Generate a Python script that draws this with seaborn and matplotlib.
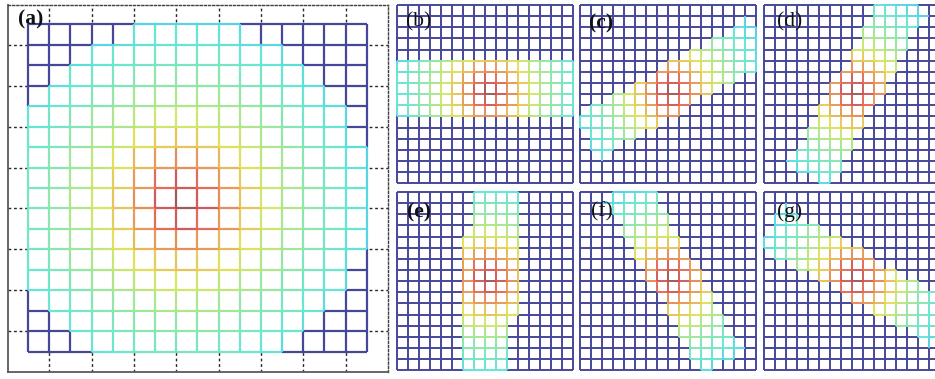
import numpy as np
import matplotlib
matplotlib.use("Agg")
import matplotlib.pyplot as plt
from matplotlib.collections import LineCollection
from matplotlib.patches import Rectangle
import seaborn as sns

sns.set_theme(style="white")
plt.rcParams["font.family"] = ["Liberation Serif", "DejaVu Serif"]

# panel letters
labels = ["(a)", "(b)", "(c)", "(d)", "(e)", "(f)", "(g)"]
label_bold = [True, False, True, False, True, False, False]
label_xy_px = [(31, 19), (419, 22), (601, 23), (790, 22), (419, 212), (602, 212), (790, 212)]

# kernel of each panel
angle_deg = [0, 0, 30, 60, 90, 120, 150]
peak_vertex = [(7, 7), (8, 8), (8, 8), (8, 8), (8, 8), (8, 8), (8, 8)]
window_centre = [(7.5, 7.5), (8.5, 8.5), (8.5, 8.5), (8.5, 8.5), (8.5, 8.5), (8.5, 8.5), (8.5, 8.5)]
window_len = [8.9, 9.5, 9.5, 9.5, 9.5, 9.5, 9.5]
window_wid = [8.9, 2.5, 2.5, 2.5, 2.5, 2.5, 2.5]
round_window = [True, False, False, False, False, False, False]
across_scale = [1.0, 1.0, 1.0, 1.0, 1.0, 1.0, 1.0]
decay = [5.15, 5.15, 5.15, 5.15, 5.15, 5.15, 5.15]
shape_power = [1.3, 1.3, 1.3, 1.3, 1.3, 1.3, 1.3]
value_floor = [0.25, 0.25, 0.25, 0.25, 0.25, 0.25, 0.25]
n_lines = 17

# tick positions
big_ticks = [1, 3, 5, 7, 9, 11, 13, 15]
small_ticks = [4, 9, 14]

W, H = 935, 379
jet = matplotlib.colormaps["jet"]


def kernel_mesh(i):
    idx = np.arange(n_lines)
    cx, cy = np.meshgrid(idx, idx)
    th = np.deg2rad(angle_deg[i])
    px, py = peak_vertex[i]
    u = (cx - px) * np.cos(th) + (cy - py) * np.sin(th)
    v = -(cx - px) * np.sin(th) + (cy - py) * np.cos(th)
    d = np.hypot(u, v / across_scale[i])
    g = np.exp(-(d / decay[i]) ** shape_power[i])
    value = value_floor[i] + (1 - value_floor[i]) * g
    wx, wy = window_centre[i]
    uw = (cx - wx) * np.cos(th) + (cy - wy) * np.sin(th)
    vw = -(cx - wx) * np.sin(th) + (cy - wy) * np.cos(th)
    if round_window[i]:
        inside = np.hypot(uw, vw) <= window_len[i]
    else:
        inside = (np.abs(uw) <= window_len[i]) & (np.abs(vw) <= window_wid[i])
    return value, inside


def soft(rgba, m=0.45, grey=0.78):
    r = np.array(rgba[:3])
    return tuple((1 - m) * r + m * grey)


def draw_mesh(ax, value, inside, lw):
    n = value.shape[0]
    segs_out, segs_in, cols_in = [], [], []
    for b in range(n):
        for c in range(n):
            for b2, c2 in ((b, c + 1), (b + 1, c)):
                if b2 >= n or c2 >= n:
                    continue
                seg = [(c, b), (c2, b2)]
                if inside[b, c] and inside[b2, c2]:
                    segs_in.append(seg)
                    cols_in.append(soft(jet(value[b, c])))
                else:
                    segs_out.append(seg)
    ax.add_collection(LineCollection(segs_out, colors=[soft(jet(0.0), m=0.35, grey=0.8)],
                                     linewidths=lw, zorder=3, clip_on=False))
    ax.add_collection(LineCollection(segs_in, colors=cols_in, linewidths=lw,
                                     zorder=4, clip_on=False))


def px_axes(fig, left, top, w, h):
    return fig.add_axes([left / W, 1 - (top + h) / H, w / W, h / H])


fig = plt.figure(figsize=(W / 100, H / 100), dpi=100)

# panel (a)
ax = px_axes(fig, 8, 5, 380, 367)
ax.set_xlim(-0.95, 17.0)
ax.set_ylim(-1.0, 16.95)
ax.set_xticks(big_ticks)
ax.set_yticks(big_ticks)
ax.set_xticklabels([])
ax.set_yticklabels([])
ax.tick_params(length=0)
ax.grid(True, color="0.15", linestyle=(0, (2, 2)), linewidth=1.0)
ax.set_axisbelow(True)
for s in ["left", "bottom"]:
    ax.spines[s].set_color("0.35")
    ax.spines[s].set_linewidth(1.3)
for s in ["top", "right"]:
    ax.spines[s].set_color("0.25")
    ax.spines[s].set_linewidth(1.0)
    ax.spines[s].set_linestyle((0, (1.5, 1.5)))
ax.add_patch(Rectangle((0, 0), 16, 16, facecolor="white", edgecolor="none", zorder=1.5))
val, ins = kernel_mesh(0)
draw_mesh(ax, val, ins, 1.6)

# panels (b)-(g)
lefts = [397, 580, 764]
tops = [5, 192]
k = 1
for top in tops:
    for left in lefts:
        ax = px_axes(fig, left - 3, top, 180, 181)
        ax.set_xlim(-0.25, 16.1)
        ax.set_ylim(-0.25, 16.0)
        ax.set_xticks(small_ticks)
        ax.set_yticks(small_ticks)
        ax.set_xticklabels([])
        ax.set_yticklabels([])
        ax.tick_params(length=2.5, width=0.6, color="0.6", direction="out")
        for s in ax.spines.values():
            s.set_visible(False)
        val, ins = kernel_mesh(k)
        draw_mesh(ax, val, ins, 1.4)
        k += 1

for i, lab in enumerate(labels):
    x, y = label_xy_px[i]
    fig.text(x / W, 1 - y / H, lab, ha="center", va="center", fontsize=15.5,
             fontweight="bold" if label_bold[i] else "normal", color="#111111", zorder=10)

fig.savefig("out.png", dpi=100)
